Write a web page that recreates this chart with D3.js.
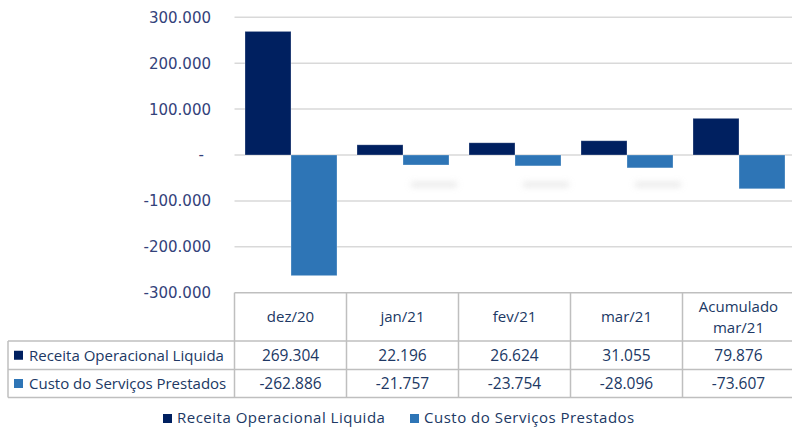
<!DOCTYPE html>
<html>
<head>
<meta charset="utf-8">
<script src="https://cdn.jsdelivr.net/npm/d3@7"></script>
<style>
  body { margin: 0; background: #fff; }
  svg { display: block; }
</style>
</head>
<body>
<div id="chart"></div>
<script>
// data
const categories = ['dez/20', 'jan/21', 'fev/21', 'mar/21', 'Acumulado mar/21'];
const headerLines = [['dez/20'], ['jan/21'], ['fev/21'], ['mar/21'], ['Acumulado', 'mar/21']];
const seriesNames = ['Receita Operacional Liquida', 'Custo do Serviços Prestados'];
const receita = [269304, 22196, 26624, 31055, 79876];
const custo = [-262886, -21757, -23754, -28096, -73607];
const yTicks = [-300000, -200000, -100000, 0, 100000, 200000, 300000];

// settings
const width = 792;
const height = 430;
const plot = { left: 234.5, right: 794.5, top: 17.3, bottom: 292.7 };
const tableLeft = 8;
const rowEdges = [292.7, 341, 369.5, 397.5];
const colors = ['#002060', '#2e75b6'];
const textColor = '#203864';
const tickColor = '#33427a';
const gridColor = '#d9d9d9';
const lineColor = '#bfbfbf';

const values = [receita, custo];
const rows = categories.map((c, i) => ({ cat: c, vals: values.map(v => v[i]) }));

const svg = d3.select('#chart')
  .append('svg')
  .attr('width', width)
  .attr('height', height);

const defs = svg.append('defs');
defs.append('filter').attr('id', 'blur')
  .attr('x', '-50%').attr('y', '-300%').attr('width', '200%').attr('height', '700%')
  .append('feGaussianBlur').attr('stdDeviation', 3);

const x = d3.scaleBand()
  .domain(categories)
  .range([plot.left, plot.right]);

const x1 = d3.scaleBand()
  .domain(seriesNames)
  .range([10.5, x.bandwidth() - 9.5]);

const y = d3.scaleLinear()
  .domain([-300000, 300000])
  .range([plot.bottom, plot.top]);

// gridlines
svg.append('g')
  .selectAll('line')
  .data(yTicks.filter(t => t !== -300000))
  .join('line')
  .attr('x1', plot.left)
  .attr('x2', plot.right)
  .attr('y1', d => y(d))
  .attr('y2', d => y(d))
  .attr('stroke', gridColor)
  .attr('stroke-width', 1.5);

// number format: dot thousands, plain hyphen, dash for zero
const fmt = d => d === 0 ? '-' : d3.format(',.0f')(d).replace(/,/g, '.').replace('\u2212', '-');

// y tick labels
svg.append('g')
  .selectAll('text')
  .data(yTicks)
  .join('text')
  .attr('x', d => d === 0 ? 204 : 211)
  .attr('y', d => y(d))
  .attr('dy', '0.36em')
  .attr('text-anchor', 'end')
  .attr('font-family', 'DejaVu Sans')
  .attr('font-size', 15)
  .attr('fill', tickColor)
  .text(fmt);

// faint shadow artefacts under the small months
svg.append('g')
  .selectAll('rect')
  .data(categories.slice(1, 4))
  .join('rect')
  .attr('x', d => x(d) + x1(seriesNames[1]) + 8)
  .attr('y', y(-60000))
  .attr('width', x1.bandwidth())
  .attr('height', 4)
  .attr('fill', '#cfcfcf')
  .attr('opacity', 0.6)
  .attr('filter', 'url(#blur)');

// bars
svg.append('g')
  .selectAll('g')
  .data(rows)
  .join('g')
  .attr('transform', d => `translate(${x(d.cat)},0)`)
  .selectAll('rect')
  .data(d => d.vals.map((v, i) => ({ key: seriesNames[i], v, i })))
  .join('rect')
  .attr('x', d => x1(d.key))
  .attr('width', x1.bandwidth())
  .attr('y', d => y(Math.max(0, d.v)))
  .attr('height', d => Math.abs(y(d.v) - y(0)))
  .attr('fill', d => colors[d.i])
  .attr('stroke', '#ffffff')
  .attr('stroke-opacity', 0.35)
  .attr('stroke-width', 0.8);

// data table
const table = svg.append('g');
const colEdges = categories.map(c => x(c)).concat([plot.right]);

// horizontal lines
table.append('line')
  .attr('x1', plot.left).attr('x2', plot.right)
  .attr('y1', rowEdges[0]).attr('y2', rowEdges[0]);
rowEdges.slice(1).forEach(ry => {
  table.append('line')
    .attr('x1', tableLeft).attr('x2', plot.right)
    .attr('y1', ry).attr('y2', ry);
});
// vertical lines
colEdges.forEach(cx => {
  table.append('line')
    .attr('x1', cx).attr('x2', cx)
    .attr('y1', rowEdges[0]).attr('y2', rowEdges[3]);
});
table.append('line')
  .attr('x1', tableLeft).attr('x2', tableLeft)
  .attr('y1', rowEdges[1]).attr('y2', rowEdges[3]);
table.selectAll('line')
  .attr('stroke', lineColor)
  .attr('stroke-width', 1.5);

// header
const header = table.append('g')
  .selectAll('text')
  .data(categories)
  .join('text')
  .attr('x', d => x(d) + x.bandwidth() / 2)
  .attr('text-anchor', 'middle')
  .attr('font-family', 'Open Sans')
  .attr('font-size', 15)
  .attr('fill', textColor);
header.each(function (d, i) {
  const lines = headerLines[i];
  const mid = (rowEdges[0] + rowEdges[1]) / 2;
  d3.select(this).selectAll('tspan')
    .data(lines)
    .join('tspan')
    .attr('x', x(d) + x.bandwidth() / 2)
    .attr('y', (l, j) => mid + (j - (lines.length - 1) / 2) * 21)
    .attr('dy', '0.36em')
    .text(l => l);
});

// rows
seriesNames.forEach((name, i) => {
  const mid = (rowEdges[i + 1] + rowEdges[i + 2]) / 2;
  table.append('rect')
    .attr('x', 14)
    .attr('y', mid - 4.5)
    .attr('width', 9)
    .attr('height', 9)
    .attr('fill', colors[i]);
  table.append('text')
    .attr('x', 29)
    .attr('y', mid)
    .attr('dy', '0.36em')
    .attr('font-family', 'Open Sans')
    .attr('font-size', 15)
    .attr('fill', textColor)
    .text(name);
  table.append('g')
    .selectAll('text')
    .data(values[i].map((v, j) => ({ v, cat: categories[j] })))
    .join('text')
    .attr('x', d => x(d.cat) + x.bandwidth() / 2)
    .attr('y', mid)
    .attr('dy', '0.36em')
    .attr('text-anchor', 'middle')
    .attr('font-family', 'Open Sans')
    .attr('font-size', 15.5)
    .attr('fill', textColor)
    .text(d => fmt(d.v));
});

// legend
const legend = svg.append('g')
  .attr('transform', 'translate(0, 418)');
const legendX = [163, 410];
seriesNames.forEach((name, i) => {
  legend.append('rect')
    .attr('x', legendX[i])
    .attr('y', -4)
    .attr('width', 9)
    .attr('height', 9)
    .attr('fill', colors[i]);
  legend.append('text')
    .attr('x', legendX[i] + 14)
    .attr('y', 0)
    .attr('dy', '0.36em')
    .attr('font-family', 'Open Sans')
    .attr('font-size', 15)
    .attr('letter-spacing', 0.5)
    .attr('fill', textColor)
    .text(name);
});
</script>
</body>
</html>
